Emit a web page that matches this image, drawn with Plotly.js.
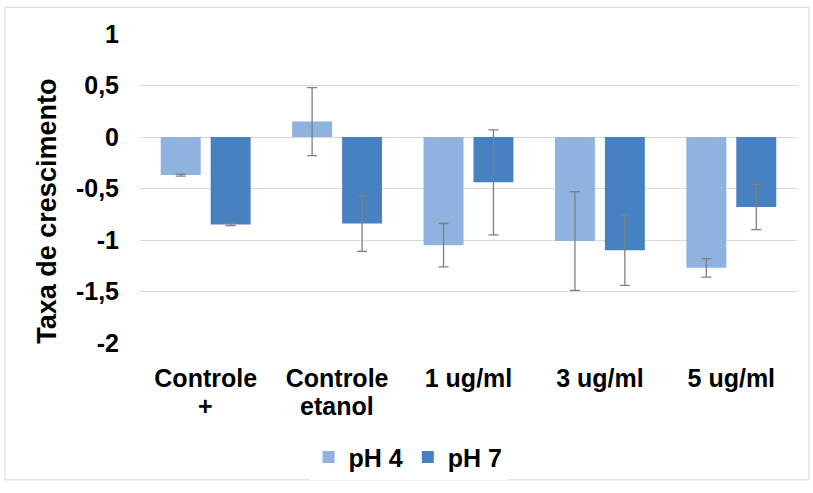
<!DOCTYPE html>
<html>
<head>
<meta charset="utf-8">
<script src="https://cdn.plot.ly/plotly-3.0.1.min.js"></script>
<style>html,body{margin:0;padding:0;background:#fff;}#chart{width:813px;height:493px;}</style>
</head>
<body>
<div id="chart"></div>
<script>
var categories = ["Controle +", "Controle etanol", "1 ug/ml", "3 ug/ml", "5 ug/ml"];
var tickLine1 = ["Controle", "Controle", "1 ug/ml", "3 ug/ml", "5 ug/ml"];
var tickLine2 = ["+", "etanol", "", "", ""];
var ph4Values = [-0.37, 0.15, -1.05, -1.01, -1.27];
var ph4Errors = [0.01, 0.33, 0.21, 0.48, 0.09];
var ph7Values = [-0.85, -0.84, -0.44, -1.10, -0.68];
var ph7Errors = [0.01, 0.27, 0.51, 0.34, 0.22];
var yTickVals = [1, 0.5, 0, -0.5, -1, -1.5, -2];
var yTickText = ["1", "0,5", "0", "-0,5", "-1", "-1,5", "-2"];
var yTitle = "Taxa de crescimento";

var font = "Liberation Sans, Arial, sans-serif";
var errStyle = {type: "data", visible: true, color: "#7f7f7f", thickness: 1.3, width: 5};

var traces = [
  {type: "bar", name: "pH 4", x: categories, y: ph4Values,
   marker: {color: "#8fb2de"},
   error_y: Object.assign({array: ph4Errors}, errStyle)},
  {type: "bar", name: "pH 7", x: categories, y: ph7Values,
   marker: {color: "#4682c2"},
   error_y: Object.assign({array: ph7Errors}, errStyle)}
];

var annotations = [];
for (var i = 0; i < categories.length; i++) {
  if (tickLine2[i]) {
    annotations.push({
      xref: "x", yref: "paper", x: categories[i], y: -0.205,
      yanchor: "middle", xanchor: "center", showarrow: false,
      text: tickLine2[i],
      font: {family: font, size: 25, color: "#000", weight: "bold"}
    });
  }
}
annotations.push({
  xref: "paper", yref: "paper", x: -0.1416, y: 0.428,
  xanchor: "center", yanchor: "middle", showarrow: false, textangle: -90,
  text: yTitle,
  font: {family: font, size: 27, color: "#000", weight: "bold"}
});

var layout = {
  width: 813, height: 493,
  margin: {l: 140, r: 16, t: 34, b: 145},
  paper_bgcolor: "#fff", plot_bgcolor: "#fff",
  barmode: "group", bargap: 0.24, bargroupgap: 0.2,
  font: {family: font, color: "#000"},
  xaxis: {
    tickvals: categories, ticktext: tickLine1,
    tickfont: {family: font, size: 25, color: "#000", weight: "bold"},
    showgrid: false, showline: false, ticks: "", ticklabelstandoff: 18
  },
  yaxis: {
    range: [-2, 1], tickvals: yTickVals, ticktext: yTickText,
    tickfont: {family: font, size: 25, color: "#000", weight: "bold"},
    gridcolor: "#d9d9d9", gridwidth: 1, zeroline: false, showline: false,
    ticks: "", ticklabelstandoff: 20
  },
  legend: {
    orientation: "h", x: 0.408, xanchor: "center", y: -0.37, yanchor: "middle",
    font: {family: font, size: 25, color: "#000", weight: "bold"},
    itemwidth: 30, traceorder: "normal"
  },
  annotations: annotations,
  shapes: [{
    type: "rect", xref: "paper", yref: "paper",
    x0: -135/657, x1: 1 + 12/657, y0: -139/314, y1: 1 + 27/314,
    line: {color: "#d9d9d9", width: 1}, fillcolor: "rgba(0,0,0,0)"
  }]
};

Plotly.newPlot("chart", traces, layout, {displayModeBar: false, staticPlot: true});
</script>
</body>
</html>
